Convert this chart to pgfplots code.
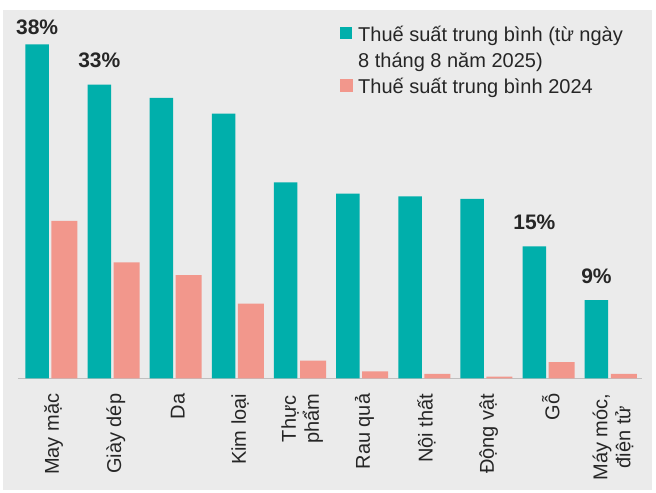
\documentclass[border=0pt]{standalone}
\usepackage{pgfplots}
\pgfplotsset{compat=1.18}
\usepackage{fontspec}
\setmainfont{Liberation Sans}
\definecolor{cTeal}{HTML}{00AFAB}
\definecolor{cSalmon}{HTML}{F2978C}
\definecolor{cBg}{HTML}{EBEBEB}
\definecolor{cTxt}{HTML}{262626}
\begin{document}
\begin{tikzpicture}
\fill[white] (0bp,0bp) rectangle (656bp,493bp);
\fill[cBg] (3bp,3bp) rectangle (652bp,483bp);
\begin{axis}[
  at={(18bp,114.7bp)}, anchor=south west,
  scale only axis, width=624bp, height=368.3bp,
  xmin=-0.533, xmax=9.507, ymin=0, ymax=41.9,
  ybar,
  axis x line*=bottom, axis y line=none,
  x axis line style={draw=black!25, line width=0.8bp, -},
  xtick={0,...,9}, major tick length=0pt,
  xticklabels={May mặc, Giày dép, Da, Kim loại, {Thực\\phẩm}, Rau quả, Nội thất, Động vật, Gỗ, {Máy móc,\\điện tử}},
  xticklabel style={yshift=-12bp, xshift=2.5bp, rotate=90, anchor=east, align=center, text=cTxt,
    font=\fontsize{20bp}{23bp}\selectfont},
  legend style={draw=none, fill=none, at={(rel axis cs:0.516,0.957)}, anchor=north west,
    font=\fontsize{20bp}{26bp}\selectfont, text=cTxt, legend cell align=left,
    row sep=0bp, column sep=2bp, inner sep=0pt, nodes={inner xsep=3bp, inner ysep=0bp, text height=15bp, text depth=11bp}},
]
\addplot[fill=cTeal, draw=none, bar width=23.5bp, bar shift=-14bp,
  legend image code/.code={\fill[cTeal] (0bp,0bp) rectangle (12bp,12bp);}]
  coordinates {(0,38) (1,33.4) (2,31.9) (3,30.1) (4,22.3) (5,21.0) (6,20.7) (7,20.4) (8,15.0) (9,8.9)};
\addlegendentry{Thuế suất trung bình (từ ngày}
\addlegendimage{legend image code/.code={}}
\addlegendentry{8 tháng 8 năm 2025)}
\addplot[fill=cSalmon, draw=none, bar width=26bp, bar shift=13.3bp,
  legend image code/.code={\fill[cSalmon] (0bp,-0.5bp) rectangle (13bp,12.5bp);}]
  coordinates {(0,17.9) (1,13.2) (2,11.75) (3,8.5) (4,2.0) (5,0.8) (6,0.5) (7,0.2) (8,1.85) (9,0.5)};
\addlegendentry{Thuế suất trung bình 2024}
\addplot[draw=none, fill=none, bar width=0bp, bar shift=-14bp, forget plot,
  point meta=explicit symbolic, nodes near coords,
  nodes near coords style={anchor=south, text=cTxt, font=\fontsize{21bp}{24bp}\selectfont\bfseries,
    yshift=6bp}]
  coordinates {(0,38) [38\%]};
\addplot[draw=none, fill=none, bar width=0bp, bar shift=-14bp, forget plot,
  point meta=explicit symbolic, nodes near coords,
  nodes near coords style={anchor=south, text=cTxt, font=\fontsize{21bp}{24bp}\selectfont\bfseries,
    yshift=13bp}]
  coordinates {(1,33.4) [33\%] (8,15.0) [15\%] (9,8.9) [9\%]};
\end{axis}
\end{tikzpicture}
\end{document}
